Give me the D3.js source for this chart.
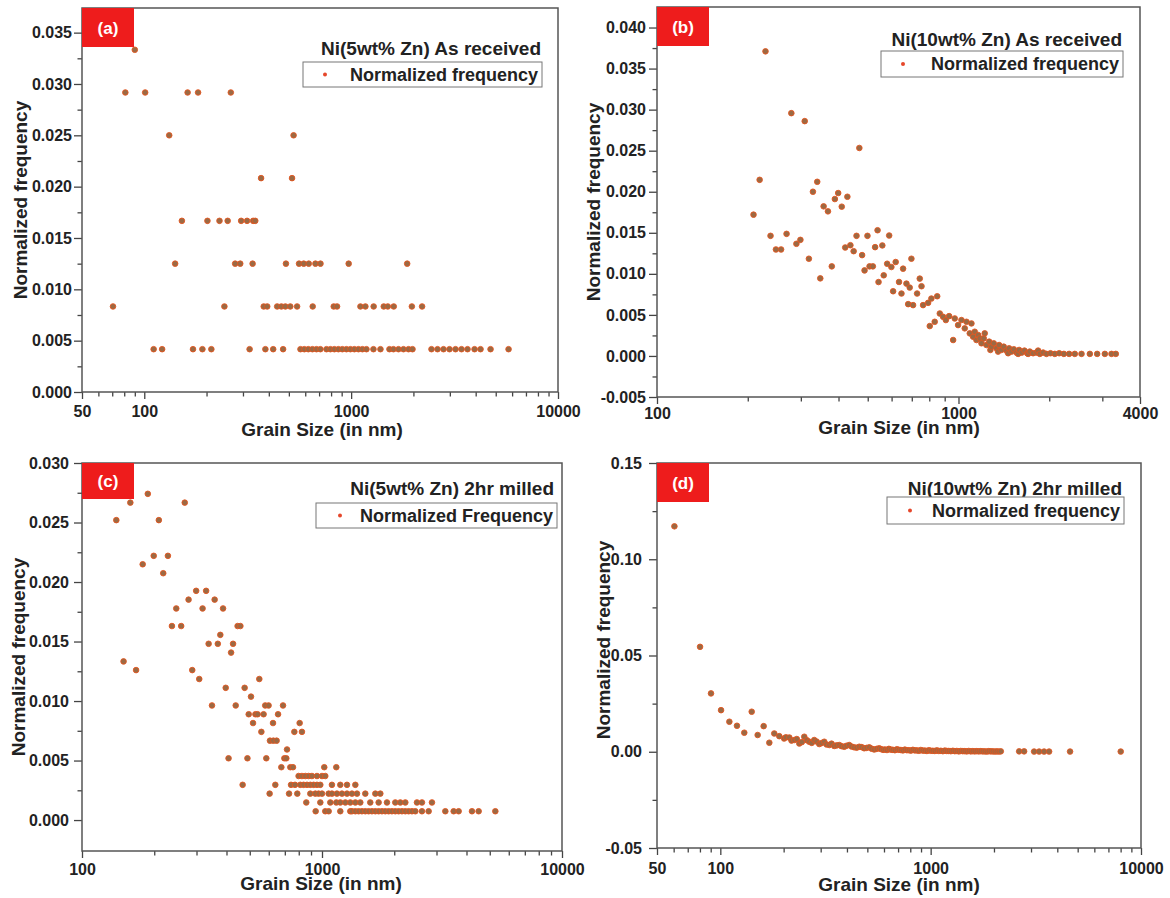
<!DOCTYPE html>
<html>
<head>
<meta charset="utf-8">
<script src="https://cdn.jsdelivr.net/npm/d3@7"></script>
<style>
body { margin: 0; background: #fff; }
text { font-family: "Liberation Sans", Arial, sans-serif; font-weight: bold; fill: #222; }
</style>
</head>
<body>
<svg id="fig" width="1170" height="898"></svg>
<script>
// grain size (nm), normalized frequency
var dataA = [
  [90,0.03333],
  [81,0.02917],[101,0.02917],[162,0.02917],[182,0.02917],[262,0.02917],
  [132,0.025],[527,0.025],
  [367,0.02083],[518,0.02083],
  [152,0.01667],[202,0.01667],[231,0.01667],[253,0.01667],[294,0.01667],[314,0.01667],[336,0.01667],[344,0.01667],
  [141,0.0125],[275,0.0125],[291,0.0125],[334,0.0125],[484,0.0125],[560,0.0125],[590,0.0125],[624,0.0125],[672,0.0125],[711,0.0125],[973,0.0125],[1866,0.0125],
  [70.6,0.00833],[244,0.00833],[378,0.00833],[393,0.00833],[439,0.00833],[460,0.00833],[481,0.00833],[508,0.00833],[548,0.00833],[652,0.00833],[824,0.00833],[855,0.00833],[1109,0.00833],[1172,0.00833],[1285,0.00833],[1438,0.00833],[1504,0.00833],[1607,0.00833],[1966,0.00833],[2203,0.00833],
  [111,0.00417],[122,0.00417],[172,0.00417],[191,0.00417],[211,0.00417],[323,0.00417],[385,0.00417],[420,0.00417],[469,0.00417],
  [569,0.00417],[594,0.00417],[621,0.00417],[650,0.00417],[680,0.00417],[710,0.00417],[760,0.00417],[794,0.00417],[830,0.00417],[868,0.00417],[907,0.00417],[949,0.00417],[992,0.00417],[1037,0.00417],[1085,0.00417],[1134,0.00417],[1186,0.00417],[1282,0.00417],[1386,0.00417],[1532,0.00417],[1602,0.00417],[1694,0.00417],[1791,0.00417],[1894,0.00417],[1980,0.00417],[2446,0.00417],[2616,0.00417],[2796,0.00417],[2989,0.00417],[3196,0.00417],[3417,0.00417],[3653,0.00417],[3950,0.00417],[4222,0.00417],[4720,0.00417],[5768,0.00417]
];

var dataB = [
  [229,0.0371],[219,0.02145],[209,0.01721],[238,0.01463],[248,0.01297],[258,0.01297],[269,0.01487],[279,0.02957],[290,0.01366],[299,0.01414],
  [309,0.0286],[319,0.01184],[329,0.0200],[340,0.02121],[348,0.00945],[357,0.01822],[369,0.01761],[380,0.01091],[389,0.01911],[399,0.01984],
  [410,0.01818],[421,0.01321],[428,0.01939],[438,0.01349],[449,0.01276],[459,0.01463],[469,0.02533],[479,0.01228],[488,0.01042],[499,0.01463],
  [507,0.01091],[520,0.01091],[529,0.01325],[539,0.01531],[543,0.0090],
  [559,0.01346],[565,0.00982],[580,0.01123],[589,0.01467],[599,0.01083],[607,0.00788],[619,0.01144],[635,0.00901],[647,0.0076],[655,0.01063],
  [672,0.00881],[681,0.00631],[689,0.00833],[698,0.01184],[707,0.00619],[729,0.0076],[744,0.00942],[754,0.00849],[763,0.00619],[793,0.00647],
  [803,0.00364],[813,0.00699],[834,0.00416],[850,0.00727],[867,0.00517],[889,0.00477],[908,0.00437],[931,0.00485],[960,0.00194],[972,0.00457],
  [997,0.00376],[1023,0.00437],[1049,0.00336],[1063,0.00416],[1090,0.00275],[1104,0.00396],[1118,0.00234],[1132,0.00295],[1147,0.00194],[1162,0.00255],
  [1177,0.00214],[1192,0.00154],[1213,0.00214],[1222,0.00275],[1238,0.00133],[1264,0.00174],[1276,0.00073],[1286,0.00113],[1309,0.00154],[1337,0.00093],
  [1353,0.00053],[1364,0.00133],[1388,0.00073],[1413,0.00113],[1442,0.00065],[1461,0.00033],[1472,0.00093],[1499,0.00053],[1526,0.00081],[1557,0.00041],
  [1577,0.00025],[1589,0.00073],[1622,0.00041],[1655,0.00065],[1690,0.00033],[1702,0.00025],[1724,0.00053],[1768,0.00033],[1814,0.00041],[1837,0.00065],
  [1861,0.00025],[1909,0.00041],[1958,0.00025],[2019,0.00033],[2087,0.00025],[2158,0.00033],[2236,0.00025],[2328,0.00025],[2431,0.00025],[2559,0.00025],
  [2727,0.00025],[2884,0.00025],[3058,0.00025],[3218,0.00025],[3325,0.00025]
];

var dataC = [
  [139,0.0252],[149,0.01333],[159,0.02667],[168,0.0126],[179,0.02149],[188,0.02741],[199,0.0222],[209,0.0252],[218,0.02074],[228,0.0222],
  [237,0.0163],[247,0.01778],[259,0.0163],[268,0.02667],[278,0.01852],[288,0.0126],[299,0.01926],[308,0.01185],[318,0.01778],[329,0.01926],
  [337,0.01481],[348,0.00963],[357,0.01852],[368,0.01481],[377,0.01556],[387,0.01778],[397,0.01111],[408,0.00519],[418,0.01407],[426,0.01481],
  [437,0.00963],[445,0.0163],[457,0.0163],[467,0.00296],[476,0.01111],[489,0.00519],[495,0.00889],[506,0.01037],[516,0.00815],[528,0.00889],
  [539,0.00889],[548,0.01185],[559,0.00741],[571,0.00889],[580,0.00963],[599,0.00963],[586,0.00519],[605,0.00222],[607,0.00667],[627,0.00667],
  [647,0.00667],[625,0.00815],[639,0.00296],[656,0.00889],[677,0.00444],[688,0.00963],[697,0.00519],[710,0.00519],[715,0.00593],[729,0.00222],
  [738,0.00444],[757,0.00444],[743,0.00296],[772,0.00296],[767,0.00741],[789,0.00222],[807,0.00815],[825,0.00741],
  [799,0.0037],[825,0.0037],[852,0.0037],[880,0.0037],[908,0.0037],[953,0.0037],[1000,0.0037],[1032,0.0037],
  [1022,0.00444],[1147,0.00444],
  [812,0.00296],[838,0.00296],[866,0.00296],[894,0.00296],[923,0.00296],[953,0.00296],[984,0.00296],[1100,0.00296],[1192,0.00296],[1271,0.00296],[1377,0.00296],
  [894,0.00222],[938,0.00222],[968,0.00222],[1000,0.00222],[1066,0.00222],[1100,0.00222],[1154,0.00222],[1211,0.00222],[1271,0.00222],[1333,0.00222],[1399,0.00222],[1515,0.00222],[1668,0.00222],[1750,0.00222],
  [860,0.00148],[984,0.00148],[1083,0.00148],[1147,0.00148],[1192,0.00148],[1251,0.00148],[1312,0.00148],[1377,0.00148],[1444,0.00148],[1589,0.00148],[1722,0.00148],[1865,0.00148],[2020,0.00148],[2120,0.00148],[2224,0.00148],[2487,0.00148],[2609,0.00148],[2872,0.00148],
  [941,0.00074],[1032,0.00074],[1066,0.00074],[1192,0.00074],[1312,0.00074],[1333,0.00074],[1377,0.00074],[1421,0.00074],[1467,0.00074],[1515,0.00074],[1564,0.00074],[1615,0.00074],[1668,0.00074],[1722,0.00074],[1778,0.00074],[1835,0.00074],[1895,0.00074],[1956,0.00074],[2020,0.00074],[2086,0.00074],[2154,0.00074],[2224,0.00074],[2296,0.00074],[2371,0.00074],[2448,0.00074],[2609,0.00074],[2782,0.00074],[3265,0.00074],[3537,0.00074],[3710,0.00074],[4216,0.00074],[4495,0.00074],[5275,0.00074]
];

var dataD = [
  [60.5,0.1171],[80.1,0.0545],[90.3,0.0303],[100.8,0.0216],[110.4,0.0156],[120,0.0135],[130,0.0099],[141,0.0208],[150.5,0.0087],[160.7,0.0133],
  [171,0.0047],[180.5,0.0095],[190.7,0.0081],[201,0.0069],[205,0.0075],[212.8,0.0074],[218,0.0058],[224.7,0.0061],[231,0.0066],[237.4,0.0043],
  [244,0.0050],[250.7,0.0078],[258,0.0060],[264.8,0.0052],[272,0.0046],[279.6,0.0061],[287,0.0053],[295.4,0.0040],[303,0.0045],[312,0.0052],
  [320,0.0038],[329.6,0.0035],[338,0.0042],[348,0.0030],[357,0.0033],[367.6,0.0035],[377,0.0029],[388,0.0026],[398,0.0031],[410,0.0035],
  [421,0.0027],[433,0.0023],[445,0.0021],[457.6,0.0026],[470,0.0024],[483,0.0018],[496,0.0020],[510.5,0.0023],[524,0.0016],[539,0.0012],
  [554,0.0015],[569,0.0018],[580,0.0014],[594,0.0010],[606,0.0012],[620,0.0009],[633,0.0015],[647,0.0011],[661,0.0010],[676,0.0008],
  [691,0.0013],[706,0.0010],[722,0.0009],[738,0.0007],[754,0.0011],[771,0.0008],[788,0.0008],[805,0.0006],[823,0.0010],[841,0.0007],
  [860,0.0007],[879,0.0005],[898,0.0009],[918,0.0006],[939,0.0006],[960,0.0004],[981,0.0008],[1002,0.0005],[1024,0.0005],[1047,0.0004],
  [1070,0.0007],[1094,0.0004],[1118,0.0005],[1143,0.0003],[1168,0.0006],[1194,0.0004],[1220,0.0004],[1247,0.0003],[1275,0.0005],[1303,0.0003],
  [1332,0.0004],[1361,0.0002],[1391,0.0004],[1422,0.0003],[1453,0.0003],[1485,0.0002],[1518,0.0004],[1552,0.0002],[1586,0.0003],[1621,0.0002],
  [1657,0.0003],[1694,0.0002],[1731,0.0003],[1770,0.0002],[1809,0.0002],[1849,0.0001],[1889,0.0003],[1932,0.0002],[1974,0.0002],[2018,0.0001],
  [2062,0.0002],[2108,0.0001],[2155,0.0002],[2634,0.0002],[2782,0.0002],[3103,0.0001],[3279,0.0001],[3462,0.0001],[3657,0.0001],[4600,0.0001],[8010,0.0001]
];

// tick values for each panel
var xTicksA = [50, 100, 1000, 10000];
var xTicksB = [100, 1000, 4000];
var xTicksC = [100, 1000, 10000];
var xTicksD = [50, 100, 1000, 10000];
var yTicksA = [0, 0.005, 0.01, 0.015, 0.02, 0.025, 0.03, 0.035];
var yTicksB = [-0.005, 0, 0.005, 0.01, 0.015, 0.02, 0.025, 0.03, 0.035, 0.04];
var yTicksC = [0, 0.005, 0.01, 0.015, 0.02, 0.025, 0.03];
var yTicksD = [-0.05, 0, 0.05, 0.1, 0.15];

var panels = [
  {tag: '(a)', data: dataA, box: [82, 8, 558, 392], xDomain: [50, 10000], yDomain: [0, 0.0374],
   xTicks: xTicksA, yTicks: yTicksA, yStep: 0.005, yFmt: '.3f', yPad: 2, xPad: 7,
   title: 'Ni(5wt% Zn) As received', titleX: 541, titleY: 55,
   legend: 'Normalized frequency', legBox: [303, 62, 542, 87], legDot: 325,
   xTitleX: 322, xTitleY: 436, yTitleX: 27, yTitleY: 200, tagH: 39},
  {tag: '(b)', data: dataB, box: [657, 7, 1140, 397], xDomain: [100, 4000], yDomain: [-0.005, 0.0425],
   xTicks: xTicksB, yTicks: yTicksB, yStep: 0.005, yFmt: '.3f', yPad: 3, xPad: 4,
   title: 'Ni(10wt% Zn) As received', titleX: 1122, titleY: 46,
   legend: 'Normalized frequency', legBox: [881, 51, 1123, 77], legDot: 903,
   xTitleX: 899, xTitleY: 434, yTitleX: 600, yTitleY: 202, tagH: 39},
  {tag: '(c)', data: dataC, box: [82, 463, 562, 851], xDomain: [100, 10000], yDomain: [-0.0026, 0.030],
   xTicks: xTicksC, yTicks: yTicksC, yStep: 0.005, yFmt: '.3f', yPad: 5, xPad: 6,
   title: 'Ni(5wt% Zn) 2hr milled', titleX: 554, titleY: 495,
   legend: 'Normalized Frequency', legBox: [316, 503, 557, 528], legDot: 340,
   xTitleX: 321, xTitleY: 890, yTitleX: 25, yTitleY: 657, tagH: 36},
  {tag: '(d)', data: dataD, box: [657, 463, 1141, 848], xDomain: [50, 10000], yDomain: [-0.05, 0.15],
   xTicks: xTicksD, yTicks: yTicksD, yStep: 0.05, yFmt: '.2f', yPad: 7, xPad: 8,
   title: 'Ni(10wt% Zn) 2hr milled', titleX: 1122, titleY: 495,
   legend: 'Normalized frequency', legBox: [887, 497, 1124, 524], legDot: 910,
   xTitleX: 899, xTitleY: 891, yTitleX: 610, yTitleY: 640, tagH: 39}
];

var svg = d3.select('#fig');
svg.append('rect').attr('width', 1170).attr('height', 898).attr('fill', '#fff');

// minor ticks of a log axis: 2..9 times each decade inside the domain
function logMinor(domain) {
  var out = [];
  for (var e = Math.floor(Math.log10(domain[0])); e <= Math.ceil(Math.log10(domain[1])); e++) {
    for (var m = 2; m <= 9; m++) {
      var v = m * Math.pow(10, e);
      if (v > domain[0] && v < domain[1]) out.push(v);
    }
  }
  return out;
}

panels.forEach(function(p) {
  var left = p.box[0], top = p.box[1], right = p.box[2], bottom = p.box[3];
  var x = d3.scaleLog().domain(p.xDomain).range([left, right]);
  var y = d3.scaleLinear().domain(p.yDomain).range([bottom, top]);
  var g = svg.append('g');

  // minor ticks
  var yMinor = p.yTicks.map(function(t) { return t + p.yStep / 2; })
    .filter(function(t) { return t < p.yDomain[1]; });
  g.append('g').attr('transform', 'translate(' + left + ',0)')
    .call(d3.axisLeft(y).tickValues(yMinor).tickSize(4.5).tickFormat(''))
    .call(function(a) { a.select('.domain').remove(); });
  g.append('g').attr('transform', 'translate(0,' + bottom + ')')
    .call(d3.axisBottom(x).tickValues(logMinor(p.xDomain)).tickSize(4.5).tickFormat(''))
    .call(function(a) { a.select('.domain').remove(); });

  // major ticks + labels
  var yAx = g.append('g').attr('transform', 'translate(' + left + ',0)')
    .call(d3.axisLeft(y).tickValues(p.yTicks).tickSize(8).tickPadding(p.yPad)
      .tickFormat(function(d) { return d3.format(p.yFmt)(d).replace('\u2212', '-'); }));
  var xAx = g.append('g').attr('transform', 'translate(0,' + bottom + ')')
    .call(d3.axisBottom(x).tickValues(p.xTicks).tickSize(7).tickPadding(p.xPad).tickFormat(d3.format('d')));
  [yAx, xAx].forEach(function(a) {
    a.select('.domain').remove();
    a.selectAll('text').style('font-size', '16px').attr('fill', '#222')
      .style('font-family', '"Liberation Sans", Arial, sans-serif').style('font-weight', 'bold');
  });
  g.selectAll('.tick line').attr('stroke', '#444').attr('stroke-width', 1.3);

  // frame
  g.append('rect').attr('x', left).attr('y', top)
    .attr('width', right - left).attr('height', bottom - top)
    .attr('fill', 'none').attr('stroke', '#555').attr('stroke-width', 1.5);

  // points
  g.append('g').selectAll('circle').data(p.data).enter().append('circle')
    .attr('cx', function(d) { return x(d[0]); })
    .attr('cy', function(d) { return y(d[1]); })
    .attr('r', 2.8)
    .attr('fill', '#9b6a44')
    .attr('stroke', '#e4561f')
    .attr('stroke-width', 0.9);

  // panel tag
  g.append('rect').attr('x', left).attr('y', top).attr('width', 52).attr('height', p.tagH).attr('fill', '#ee1c1c');
  g.append('text').attr('x', left + 26).attr('y', top + p.tagH / 2 + 6)
    .attr('text-anchor', 'middle').style('font-size', '17px').style('fill', '#fff').text(p.tag);

  // title and legend
  g.append('text').attr('x', p.titleX).attr('y', p.titleY).attr('text-anchor', 'end')
    .style('font-size', '19px').text(p.title);
  var lb = p.legBox;
  g.append('rect').attr('x', lb[0]).attr('y', lb[1]).attr('width', lb[2] - lb[0]).attr('height', lb[3] - lb[1])
    .attr('fill', '#fff').attr('stroke', '#777').attr('stroke-width', 1);
  g.append('circle').attr('cx', p.legDot).attr('cy', (lb[1] + lb[3]) / 2).attr('r', 2).attr('fill', '#e5472b');
  g.append('text').attr('x', lb[2] - 4).attr('y', (lb[1] + lb[3]) / 2 + 6).attr('text-anchor', 'end')
    .style('font-size', '18px').text(p.legend);

  // axis titles
  g.append('text').attr('x', p.xTitleX).attr('y', p.xTitleY).attr('text-anchor', 'middle')
    .style('font-size', '19px').text('Grain Size (in nm)');
  g.append('text').attr('transform', 'translate(' + p.yTitleX + ',' + p.yTitleY + ') rotate(-90)')
    .attr('text-anchor', 'middle').style('font-size', '19px').text('Normalized frequency');
});
</script>
</body>
</html>
